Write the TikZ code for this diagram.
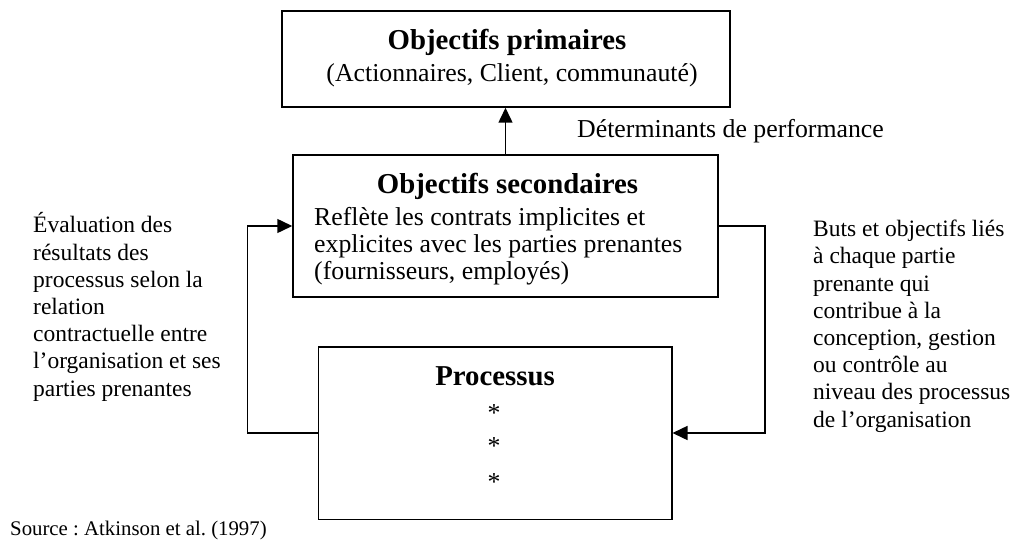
\documentclass[tikz,border=0pt]{standalone}
\usepackage{fontspec}
\setmainfont{Liberation Serif}
\usetikzlibrary{arrows.meta}
\frenchspacing
\begin{document}
\begin{tikzpicture}[x=1pt,y=-1pt,
  frame/.style={draw=black, line width=1.5pt, rectangle, inner sep=0pt},
  conn/.style={draw=black, line width=1.5pt, -{Triangle[length=15pt,width=14pt]}},
  titletext/.style={font=\bfseries\fontsize{28.8}{32}\selectfont, inner sep=0pt},
  bodytext/.style={font=\fontsize{25.8}{27}\selectfont, inner sep=0pt},
  sidetext/.style={font=\fontsize{23.5}{27.2}\selectfont, inner sep=0pt, align=left},
  srctext/.style={font=\fontsize{20.8}{24}\selectfont, inner sep=0pt}]
\useasboundingbox (0,0) rectangle (1012,548);

% the three boxes
\node[frame, minimum width=448pt, minimum height=96pt] (prim) at (506,59) {};
\node[frame, minimum width=425pt, minimum height=142pt] (sec) at (505.5,226) {};
\node[frame, minimum width=353.5pt, minimum height=172.5pt] (proc) at (495,433) {};

% primary objectives
\node[titletext, anchor=base] (primT) at (507,50) {Objectifs primaires};
\node[bodytext, anchor=base] (primS) at (512,82) {(Actionnaires, Client, communauté)};
\node[bodytext, anchor=base west] (perf) at (577,138) {Déterminants de performance};

% secondary objectives (multi-line blocks are placed by their last baseline)
\node[titletext, anchor=base] (secT) at (507.5,194) {Objectifs secondaires};
\node[bodytext, anchor=base west, align=left] (secS) at (314,279)
  {Reflète les contrats implicites et\\explicites avec les parties prenantes\\(fournisseurs, employés)};

% process
\node[titletext, anchor=base] (procT) at (495,385) {Processus};
\node[bodytext, anchor=base] (star1) at (494,421) {*};
\node[bodytext, anchor=base] (star2) at (494,454) {*};
\node[bodytext, anchor=base] (star3) at (494,490) {*};

% side explanations
\node[sidetext, anchor=base west] (leftT) at (33,396)
  {Évaluation des\\résultats des\\processus selon la\\relation\\contractuelle entre\\l’organisation et ses\\parties prenantes};
\node[sidetext, anchor=base west] (rightT) at (813,427)
  {Buts et objectifs liés\\à chaque partie\\prenante qui\\contribue à la\\conception, gestion\\ou contrôle au\\niveau des processus\\de l’organisation};

\node[srctext, anchor=base west] (src) at (10,535) {Source : Atkinson et al. (1997)};

% connectors
\coordinate (lc) at (247.5,433);
\coordinate (rc) at (765,433);
\draw[conn] (sec.north) -- (sec.north |- prim.south);
\draw[conn] (proc.west) -- (lc) |- (sec.west);
\draw[conn] (sec.east) -| (rc) -- (proc.east);
\end{tikzpicture}
\end{document}
